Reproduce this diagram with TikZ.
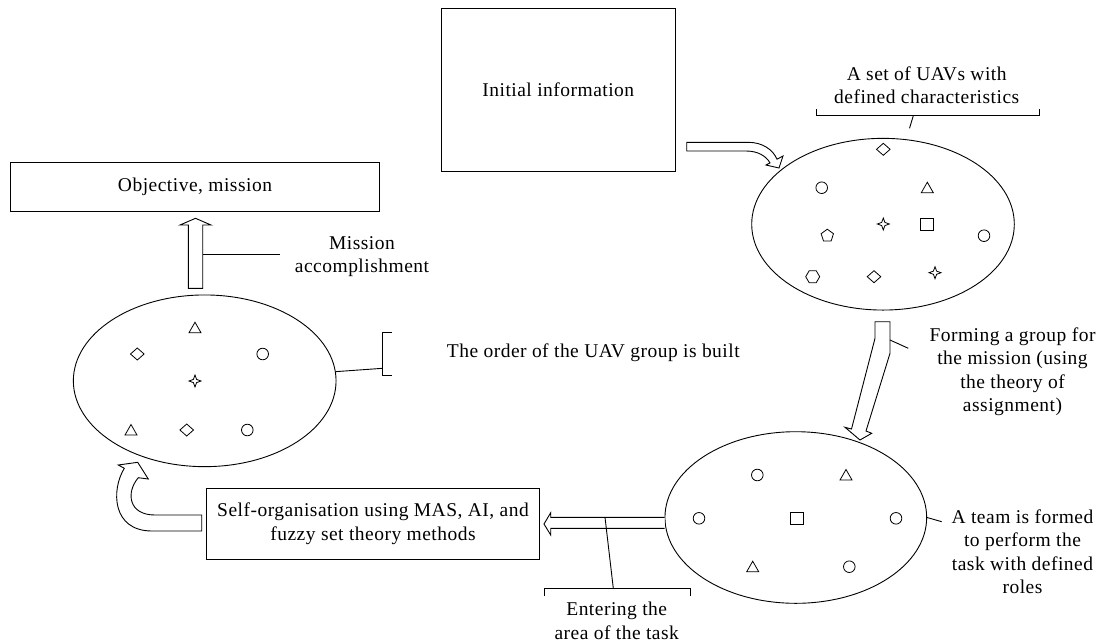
\documentclass[tikz,border=0pt]{standalone}
\usepackage{fontspec}
\setmainfont{Liberation Serif}[LetterSpace=2.5]
\usetikzlibrary{shapes.geometric}
\tikzset{
  lw/.style={line width=0.9pt},
  txtfont/.style={font=\fontsize{19.5pt}{23.3pt}\selectfont},
  box/.style={draw, lw, inner sep=0pt, align=center, txtfont},
  oval/.style={draw, ellipse, lw, inner sep=0pt},
  lbl/.style={inner sep=0pt, align=center, txtfont},
  hollow/.style={draw, lw, fill=white, line join=miter},
  mk/.style={draw, line width=0.8pt, line join=miter},
  circ/.pic={\draw[mk] (0,0) circle (5.8pt);},
  tri/.pic={\draw[mk] (0,-5.5) -- (6,5) -- (-6,5) -- cycle;},
  diam/.pic={\draw[mk] (0,-6) -- (6.8,0) -- (0,6) -- (-6.8,0) -- cycle;},
  sq/.pic={\draw[mk] (-6.5,-6) rectangle (6.5,6);},
  fstar/.pic={\draw[mk] (0,-6) -- (1.6,-1.6) -- (6,0) -- (1.6,1.6) -- (0,6) -- (-1.6,1.6) -- (-6,0) -- (-1.6,-1.6) -- cycle;},
  pent/.pic={\draw[mk] (0,-6.5) -- (6.18,-2.01) -- (3.82,5.26) -- (-3.82,5.26) -- (-6.18,-2.01) -- cycle;},
  hexa/.pic={\draw[mk] (-7,0) -- (-3.5,-6) -- (3.5,-6) -- (7,0) -- (3.5,6) -- (-3.5,6) -- cycle;},
}
\begin{document}
\begin{tikzpicture}[x=1pt,y=-1pt]
\useasboundingbox (0,0) rectangle (1102,643);

% boxes
\node[box, minimum width=234.7pt, minimum height=163.4pt] (info) at (558.3,90) {Initial information};
\node[box, minimum width=368.6pt, minimum height=49pt] (obj) at (195,187.2) {Objective, mission};
\node[box, minimum width=332.6pt, minimum height=70.7pt] (self) at (373,523.7) {Self-organisation using MAS, AI, and\\fuzzy set theory methods};

% ellipses
\node[oval, minimum width=262.6pt, minimum height=171.7pt] (E1) at (883,224.2) {};
\node[oval, minimum width=261.7pt, minimum height=171.6pt] (E2) at (795.8,517.5) {};
\node[oval, minimum width=262.7pt, minimum height=171.7pt] (E3) at (204.7,380.8) {};

% markers in E1
\pic at (883.3,149.3) {diam};
\pic at (821.7,187.7) {circ};
\pic at (927.3,187.7) {tri};
\pic at (883.3,224) {fstar};
\pic at (927.3,224) {sq};
\pic at (827.3,235.7) {pent};
\pic at (984,235.7) {circ};
\pic at (812.7,276.7) {hexa};
\pic at (874,276.7) {diam};
\pic at (935,272.7) {fstar};

% markers in E2
\pic at (757.3,475) {circ};
\pic at (846,475) {tri};
\pic at (699,518.3) {circ};
\pic at (796.7,518.3) {sq};
\pic at (896,518.3) {circ};
\pic at (752.7,566.7) {tri};
\pic at (849.3,566.7) {circ};

% markers in E3
\pic at (195,327.7) {tri};
\pic at (137.3,354) {diam};
\pic at (262.7,354) {circ};
\pic at (195,381) {fstar};
\pic at (131,430) {tri};
\pic at (186.7,430) {diam};
\pic at (247.3,430) {circ};

% hollow arrows
% Initial information -> E1
\draw[hollow] (686.7,142.3) -- (748,142.3) .. controls (763,142.3) and (773,150) .. (777,159.2)
  -- (783,156) -- (779,168) -- (766,165) -- (770,162.9)
  .. controls (766,156) and (758,151) .. (746,151) -- (686.7,151) -- cycle;
% E1 -> E2
\draw[hollow] (875,321.7) -- (890,321.7) -- (890,353.3) -- (866,431) -- (871.7,433.3)
  -- (860,440) -- (845,427.3) -- (851.5,429) -- (875,338.3) -- cycle;
% E2 -> self
\draw[hollow] (E2.west |- 0,517.3) -- (550.7,517.3) -- (550.7,512.7) -- (544,524)
  -- (550.7,535) -- (550.7,528.3) -- (E2.west |- 0,528.3);
% self -> E3 (curved)
\draw[hollow] (201.7,515) -- (155,515) .. controls (128,515) and (126,492) .. (138.3,477.7)
  -- (148.3,479) -- (137.7,462.3) -- (118.3,465) -- (124.3,468.3)
  .. controls (111,490) and (112,531) .. (152,531) -- (201.7,531) -- cycle;
% E3 -> obj
\draw[hollow] (188.3,288.3) -- (188.3,225) -- (180,225) -- (195.5,218.3) -- (211,225)
  -- (202.7,225) -- (202.7,288.3) -- cycle;

% labels
\node[lbl] (lset) at (926.7,85) {A set of UAVs with\\defined characteristics};
\node[lbl] (lform) at (1012.5,371.7) {Forming a group for\\the mission (using\\the theory of\\assignment)};
\node[lbl] (lteam) at (1022.5,551.8) {A team is formed\\to perform the\\task with defined\\roles};
\node[lbl] (lenter) at (616.7,620.7) {Entering the\\area of the task};
\node[lbl, anchor=west] (lorder) at (446.7,352.3) {The order of the UAV group is built};
\node[lbl] (lmiss) at (362,256.5) {Mission\\accomplishment};

% callouts
\coordinate (b1) at (913.3,115.7);
\coordinate (b1e) at (909.5,128.3);
\draw[lw] (816,109.3) -- (816,115.7) -- (1039,115.7) -- (1039,109.3);
\draw[lw] (b1) -- (b1e);

\coordinate (f1) at (890,340);
\coordinate (f2) at (908.3,348.3);
\draw[lw] (f1) -- (f2);

\coordinate (t2) at (941.7,521.7);
\draw[lw] (E2.east) -- (t2);

\coordinate (e1) at (605,517.3);
\coordinate (e2) at (613.3,588.3);
\draw[lw] (e1) -- (e2);
\draw[lw] (544,596) -- (544,588.3) -- (690.7,588.3) -- (690.7,596);

\coordinate (o2) at (382.7,368.3);
\draw[lw] (E3.4) -- (o2);
\draw[lw] (391.7,332.3) -- (382.7,332.3) -- (382.7,375.7) -- (391.7,375.7);

\coordinate (m1) at (202.7,254);
\coordinate (m2) at (280,254);
\draw[lw] (m1) -- (m2);
\end{tikzpicture}
\end{document}
